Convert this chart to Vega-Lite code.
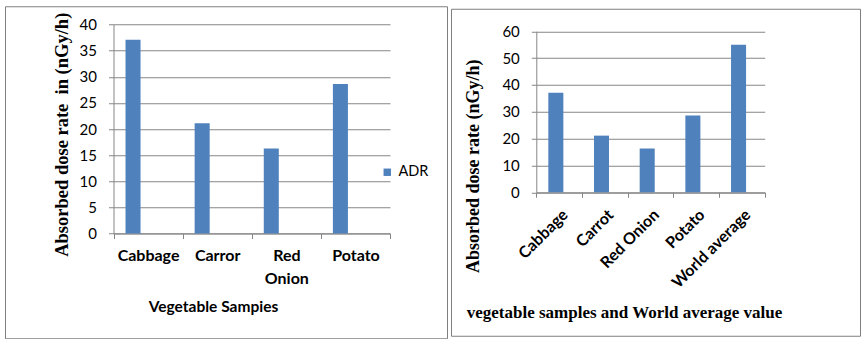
{
  "$schema": "https://vega.github.io/schema/vega-lite/v6.json",
  "background": "white",
  "padding": {"left": 4, "top": 5, "right": 0, "bottom": 0},
  "spacing": 2,
  "center": true,
  "config": {
    "view": {"stroke": "#7f7f7f", "strokeWidth": 1},
    "axis": {"domainColor": "#868686", "tickColor": "#868686", "gridColor": "#868686", "labelColor": "#000000", "titleColor": "#000000"}
  },
  "hconcat": [
    {
      "width": 442,
      "height": 332,
      "data": {"values": [
        {"veg": "Cabbage", "series": "ADR", "adr": 37.1},
        {"veg": "Carror", "series": "ADR", "adr": 21.1},
        {"veg": "Red Onion", "series": "ADR", "adr": 16.3},
        {"veg": "Potato", "series": "ADR", "adr": 28.6}
      ]},
      "mark": {"type": "bar"},
      "encoding": {
        "x": {"field": "veg", "type": "nominal", "sort": null,
          "scale": {"range": [108.5, 385], "paddingInner": 0, "paddingOuter": 0},
          "axis": {"title": "Vegetable Sampies", "offset": -104.7, "tickBand": "extent", "tickSize": 5, "grid": false,
            "labelFont": "Lato", "labelFontSize": 16, "labelFontWeight": "bold", "labelAngle": 0, "labelPadding": 9, "labelLineHeight": 23,
            "labelExpr": "datum.value == 'Red Onion' ? ['Red', 'Onion'] : datum.value",
            "titleFont": "Lato", "titleFontSize": 15.5, "titleFontWeight": "bold", "titleX": 208, "titleY": 72.7, "titleBaseline": "middle", "titleAlign": "center"}},
        "xOffset": {"field": "series", "type": "nominal", "scale": {"domain": ["ADR", "S2", "S3"], "paddingInner": 0, "paddingOuter": 0.8}},
        "y": {"field": "adr", "type": "quantitative",
          "scale": {"domain": [0, 40], "range": [227.3, 18.3], "nice": false},
          "axis": {"title": "Absorbed dose rate\u00a0 in (nGy/h)", "offset": -108.5, "values": [0, 5, 10, 15, 20, 25, 30, 35, 40], "grid": true, "tickSize": 5,
            "labelFont": "Lato", "labelFontSize": 15, "labelPadding": 12,
            "titleFont": "Liberation Serif", "titleFontSize": 18.5, "titleFontWeight": "bold", "titleX": -52, "titleY": 128, "titleBaseline": "middle", "titleAlign": "center"}},
        "color": {"field": "series", "type": "nominal", "scale": {"domain": ["ADR"], "range": ["#4F81BD"]},
          "legend": {"title": null, "orient": "none", "legendX": 375, "legendY": 159, "symbolType": "square", "symbolSize": 55, "symbolStrokeWidth": 0, "labelOffset": 4, "labelFont": "Lato", "labelFontSize": 14.5, "labelColor": "#000000"}}
      }
    },
    {
      "width": 409,
      "height": 327,
      "data": {"values": [
        {"veg": "Cabbage", "series": "ADR", "adr": 37.1},
        {"veg": "Carrot", "series": "ADR", "adr": 21.1},
        {"veg": "Red Onion", "series": "ADR", "adr": 16.3},
        {"veg": "Potato", "series": "ADR", "adr": 28.6},
        {"veg": "World average", "series": "ADR", "adr": 55}
      ]},
      "mark": {"type": "bar"},
      "encoding": {
        "x": {"field": "veg", "type": "nominal", "sort": null,
          "scale": {"range": [85.3, 313.7], "paddingInner": 0, "paddingOuter": 0},
          "axis": {"title": "vegetable samples and World average value", "offset": -143.5, "tickBand": "extent", "tickSize": 5, "grid": false,
            "labelFont": "Lato", "labelFontSize": 16, "labelFontWeight": "bold", "labelAngle": -45, "labelPadding": 9,
            "titleFont": "Liberation Serif", "titleFontSize": 17, "titleFontWeight": "bold", "titleX": 173, "titleY": 120, "titleBaseline": "middle", "titleAlign": "center"}},
        "xOffset": {"field": "series", "type": "nominal", "scale": {"domain": ["ADR", "S2", "S3"], "paddingInner": 0, "paddingOuter": 0.8}},
        "y": {"field": "adr", "type": "quantitative",
          "scale": {"domain": [0, 60], "range": [183.5, 22.5], "nice": false},
          "axis": {"title": "Absorbed dose rate (nGy/h)", "offset": -85.3, "values": [0, 10, 20, 30, 40, 50, 60], "grid": true, "tickSize": 5,
            "labelFont": "Lato", "labelFontSize": 15, "labelPadding": 12,
            "titleFont": "Liberation Serif", "titleFontSize": 18, "titleFontWeight": "bold", "titleX": -63, "titleY": 157, "titleBaseline": "middle", "titleAlign": "center"}},
        "color": {"field": "series", "type": "nominal", "scale": {"domain": ["ADR"], "range": ["#4F81BD"]},
          "legend": {"title": null, "orient": "none", "legendX": 343, "legendY": 157, "symbolType": "square", "symbolSize": 64, "symbolStrokeWidth": 0, "labelFont": "Lato", "labelFontSize": 17, "labelColor": "#000000"}}
      }
    }
  ]
}
